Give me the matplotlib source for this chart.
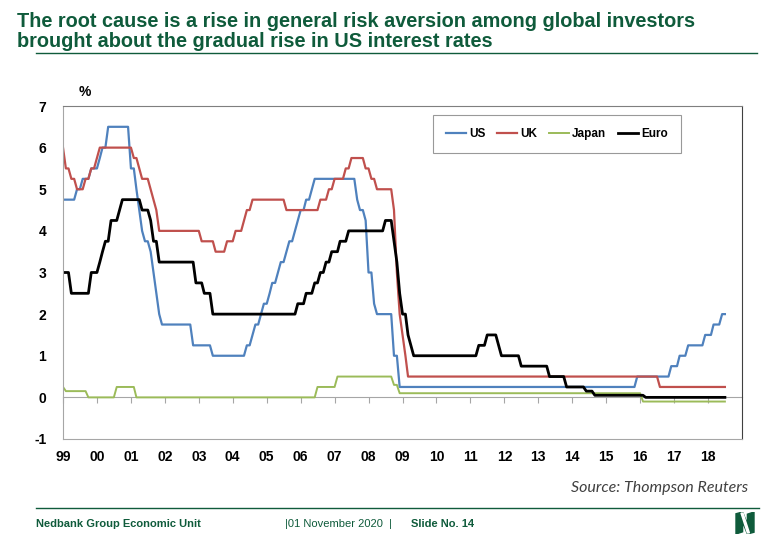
import matplotlib
matplotlib.use("Agg")
import matplotlib.pyplot as plt
import matplotlib.dates as mdates
from matplotlib.lines import Line2D
from matplotlib.patches import Polygon
import pandas as pd

plt.rcParams["axes.unicode_minus"] = False

# monthly policy rates, Jan 1999 - Jul 2018 (one row per year)
us = [
    4.75, 4.75, 4.75, 4.75, 4.75, 5.00, 5.00, 5.25, 5.25, 5.25, 5.50, 5.50,
    5.50, 5.75, 6.00, 6.00, 6.50, 6.50, 6.50, 6.50, 6.50, 6.50, 6.50, 6.50,
    5.50, 5.50, 5.00, 4.50, 4.00, 3.75, 3.75, 3.50, 3.00, 2.50, 2.00, 1.75,
    1.75, 1.75, 1.75, 1.75, 1.75, 1.75, 1.75, 1.75, 1.75, 1.75, 1.25, 1.25,
    1.25, 1.25, 1.25, 1.25, 1.25, 1.00, 1.00, 1.00, 1.00, 1.00, 1.00, 1.00,
    1.00, 1.00, 1.00, 1.00, 1.00, 1.25, 1.25, 1.50, 1.75, 1.75, 2.00, 2.25,
    2.25, 2.50, 2.75, 2.75, 3.00, 3.25, 3.25, 3.50, 3.75, 3.75, 4.00, 4.25,
    4.50, 4.50, 4.75, 4.75, 5.00, 5.25, 5.25, 5.25, 5.25, 5.25, 5.25, 5.25,
    5.25, 5.25, 5.25, 5.25, 5.25, 5.25, 5.25, 5.25, 4.75, 4.50, 4.50, 4.25,
    3.00, 3.00, 2.25, 2.00, 2.00, 2.00, 2.00, 2.00, 2.00, 1.00, 1.00, 0.25,
    0.25, 0.25, 0.25, 0.25, 0.25, 0.25, 0.25, 0.25, 0.25, 0.25, 0.25, 0.25,
    0.25, 0.25, 0.25, 0.25, 0.25, 0.25, 0.25, 0.25, 0.25, 0.25, 0.25, 0.25,
    0.25, 0.25, 0.25, 0.25, 0.25, 0.25, 0.25, 0.25, 0.25, 0.25, 0.25, 0.25,
    0.25, 0.25, 0.25, 0.25, 0.25, 0.25, 0.25, 0.25, 0.25, 0.25, 0.25, 0.25,
    0.25, 0.25, 0.25, 0.25, 0.25, 0.25, 0.25, 0.25, 0.25, 0.25, 0.25, 0.25,
    0.25, 0.25, 0.25, 0.25, 0.25, 0.25, 0.25, 0.25, 0.25, 0.25, 0.25, 0.25,
    0.25, 0.25, 0.25, 0.25, 0.25, 0.25, 0.25, 0.25, 0.25, 0.25, 0.25, 0.50,
    0.50, 0.50, 0.50, 0.50, 0.50, 0.50, 0.50, 0.50, 0.50, 0.50, 0.50, 0.75,
    0.75, 0.75, 1.00, 1.00, 1.00, 1.25, 1.25, 1.25, 1.25, 1.25, 1.25, 1.50,
    1.50, 1.50, 1.75, 1.75, 1.75, 2.00, 2.00,
]
uk = [
    6.00, 5.50, 5.50, 5.25, 5.25, 5.00, 5.00, 5.00, 5.25, 5.25, 5.50, 5.50,
    5.75, 6.00, 6.00, 6.00, 6.00, 6.00, 6.00, 6.00, 6.00, 6.00, 6.00, 6.00,
    6.00, 5.75, 5.75, 5.50, 5.25, 5.25, 5.25, 5.00, 4.75, 4.50, 4.00, 4.00,
    4.00, 4.00, 4.00, 4.00, 4.00, 4.00, 4.00, 4.00, 4.00, 4.00, 4.00, 4.00,
    4.00, 3.75, 3.75, 3.75, 3.75, 3.75, 3.50, 3.50, 3.50, 3.50, 3.75, 3.75,
    3.75, 4.00, 4.00, 4.00, 4.25, 4.50, 4.50, 4.75, 4.75, 4.75, 4.75, 4.75,
    4.75, 4.75, 4.75, 4.75, 4.75, 4.75, 4.75, 4.50, 4.50, 4.50, 4.50, 4.50,
    4.50, 4.50, 4.50, 4.50, 4.50, 4.50, 4.50, 4.75, 4.75, 4.75, 5.00, 5.00,
    5.25, 5.25, 5.25, 5.25, 5.50, 5.50, 5.75, 5.75, 5.75, 5.75, 5.75, 5.50,
    5.50, 5.25, 5.25, 5.00, 5.00, 5.00, 5.00, 5.00, 5.00, 4.50, 3.00, 2.00,
    1.50, 1.00, 0.50, 0.50, 0.50, 0.50, 0.50, 0.50, 0.50, 0.50, 0.50, 0.50,
    0.50, 0.50, 0.50, 0.50, 0.50, 0.50, 0.50, 0.50, 0.50, 0.50, 0.50, 0.50,
    0.50, 0.50, 0.50, 0.50, 0.50, 0.50, 0.50, 0.50, 0.50, 0.50, 0.50, 0.50,
    0.50, 0.50, 0.50, 0.50, 0.50, 0.50, 0.50, 0.50, 0.50, 0.50, 0.50, 0.50,
    0.50, 0.50, 0.50, 0.50, 0.50, 0.50, 0.50, 0.50, 0.50, 0.50, 0.50, 0.50,
    0.50, 0.50, 0.50, 0.50, 0.50, 0.50, 0.50, 0.50, 0.50, 0.50, 0.50, 0.50,
    0.50, 0.50, 0.50, 0.50, 0.50, 0.50, 0.50, 0.50, 0.50, 0.50, 0.50, 0.50,
    0.50, 0.50, 0.50, 0.50, 0.50, 0.50, 0.50, 0.25, 0.25, 0.25, 0.25, 0.25,
    0.25, 0.25, 0.25, 0.25, 0.25, 0.25, 0.25, 0.25, 0.25, 0.25, 0.25, 0.25,
    0.25, 0.25, 0.25, 0.25, 0.25, 0.25, 0.25,
]
japan = [
    0.25, 0.15, 0.15, 0.15, 0.15, 0.15, 0.15, 0.15, 0.15, 0.00, 0.00, 0.00,
    0.00, 0.00, 0.00, 0.00, 0.00, 0.00, 0.00, 0.25, 0.25, 0.25, 0.25, 0.25,
    0.25, 0.25, 0.00, 0.00, 0.00, 0.00, 0.00, 0.00, 0.00, 0.00, 0.00, 0.00,
    0.00, 0.00, 0.00, 0.00, 0.00, 0.00, 0.00, 0.00, 0.00, 0.00, 0.00, 0.00,
    0.00, 0.00, 0.00, 0.00, 0.00, 0.00, 0.00, 0.00, 0.00, 0.00, 0.00, 0.00,
    0.00, 0.00, 0.00, 0.00, 0.00, 0.00, 0.00, 0.00, 0.00, 0.00, 0.00, 0.00,
    0.00, 0.00, 0.00, 0.00, 0.00, 0.00, 0.00, 0.00, 0.00, 0.00, 0.00, 0.00,
    0.00, 0.00, 0.00, 0.00, 0.00, 0.00, 0.25, 0.25, 0.25, 0.25, 0.25, 0.25,
    0.25, 0.50, 0.50, 0.50, 0.50, 0.50, 0.50, 0.50, 0.50, 0.50, 0.50, 0.50,
    0.50, 0.50, 0.50, 0.50, 0.50, 0.50, 0.50, 0.50, 0.50, 0.30, 0.30, 0.10,
    0.10, 0.10, 0.10, 0.10, 0.10, 0.10, 0.10, 0.10, 0.10, 0.10, 0.10, 0.10,
    0.10, 0.10, 0.10, 0.10, 0.10, 0.10, 0.10, 0.10, 0.10, 0.10, 0.10, 0.10,
    0.10, 0.10, 0.10, 0.10, 0.10, 0.10, 0.10, 0.10, 0.10, 0.10, 0.10, 0.10,
    0.10, 0.10, 0.10, 0.10, 0.10, 0.10, 0.10, 0.10, 0.10, 0.10, 0.10, 0.10,
    0.10, 0.10, 0.10, 0.10, 0.10, 0.10, 0.10, 0.10, 0.10, 0.10, 0.10, 0.10,
    0.10, 0.10, 0.10, 0.10, 0.10, 0.10, 0.10, 0.10, 0.10, 0.10, 0.10, 0.10,
    0.10, 0.10, 0.10, 0.10, 0.10, 0.10, 0.10, 0.10, 0.10, 0.10, 0.10, 0.10,
    0.10, -0.10, -0.10, -0.10, -0.10, -0.10, -0.10, -0.10, -0.10, -0.10, -0.10, -0.10,
    -0.10, -0.10, -0.10, -0.10, -0.10, -0.10, -0.10, -0.10, -0.10, -0.10, -0.10, -0.10,
    -0.10, -0.10, -0.10, -0.10, -0.10, -0.10, -0.10,
]
euro = [
    3.00, 3.00, 3.00, 2.50, 2.50, 2.50, 2.50, 2.50, 2.50, 2.50, 3.00, 3.00,
    3.00, 3.25, 3.50, 3.75, 3.75, 4.25, 4.25, 4.25, 4.50, 4.75, 4.75, 4.75,
    4.75, 4.75, 4.75, 4.75, 4.50, 4.50, 4.50, 4.25, 3.75, 3.75, 3.25, 3.25,
    3.25, 3.25, 3.25, 3.25, 3.25, 3.25, 3.25, 3.25, 3.25, 3.25, 3.25, 2.75,
    2.75, 2.75, 2.50, 2.50, 2.50, 2.00, 2.00, 2.00, 2.00, 2.00, 2.00, 2.00,
    2.00, 2.00, 2.00, 2.00, 2.00, 2.00, 2.00, 2.00, 2.00, 2.00, 2.00, 2.00,
    2.00, 2.00, 2.00, 2.00, 2.00, 2.00, 2.00, 2.00, 2.00, 2.00, 2.00, 2.25,
    2.25, 2.25, 2.50, 2.50, 2.50, 2.75, 2.75, 3.00, 3.00, 3.25, 3.25, 3.50,
    3.50, 3.50, 3.75, 3.75, 3.75, 4.00, 4.00, 4.00, 4.00, 4.00, 4.00, 4.00,
    4.00, 4.00, 4.00, 4.00, 4.00, 4.00, 4.25, 4.25, 4.25, 3.75, 3.25, 2.50,
    2.00, 2.00, 1.50, 1.25, 1.00, 1.00, 1.00, 1.00, 1.00, 1.00, 1.00, 1.00,
    1.00, 1.00, 1.00, 1.00, 1.00, 1.00, 1.00, 1.00, 1.00, 1.00, 1.00, 1.00,
    1.00, 1.00, 1.00, 1.25, 1.25, 1.25, 1.50, 1.50, 1.50, 1.50, 1.25, 1.00,
    1.00, 1.00, 1.00, 1.00, 1.00, 1.00, 0.75, 0.75, 0.75, 0.75, 0.75, 0.75,
    0.75, 0.75, 0.75, 0.75, 0.50, 0.50, 0.50, 0.50, 0.50, 0.50, 0.25, 0.25,
    0.25, 0.25, 0.25, 0.25, 0.25, 0.15, 0.15, 0.15, 0.05, 0.05, 0.05, 0.05,
    0.05, 0.05, 0.05, 0.05, 0.05, 0.05, 0.05, 0.05, 0.05, 0.05, 0.05, 0.05,
    0.05, 0.05, 0.00, 0.00, 0.00, 0.00, 0.00, 0.00, 0.00, 0.00, 0.00, 0.00,
    0.00, 0.00, 0.00, 0.00, 0.00, 0.00, 0.00, 0.00, 0.00, 0.00, 0.00, 0.00,
    0.00, 0.00, 0.00, 0.00, 0.00, 0.00, 0.00,
]
names = ["US", "UK", "Japan", "Euro"]
colors = ["#4F81BD", "#C0504D", "#9BBB59", "#000000"]
widths = [1.6, 1.6, 1.4, 2.0]
years = list(range(1999, 2019))

dates = pd.date_range("1999-01-01", periods=len(us), freq="MS")
year_ticks = [pd.Timestamp(year=y, month=1, day=1) for y in years]
green = "#0F5B3B"

fig = plt.figure(figsize=(7.8, 5.4), dpi=100)
ax = fig.add_axes([63 / 780, 1 - 439 / 540, 679 / 780, 333 / 540])

for vals, name, c, lw in zip([us, uk, japan, euro], names, colors, widths):
    ax.plot(dates, vals, color=c, lw=lw, label=name)

ax.set_ylim(-1, 7)
ax.set_yticks(range(-1, 8))
ax.set_xlim(pd.Timestamp("1999-01-01"), pd.Timestamp("2019-01-01"))
ax.set_xticks(year_ticks)
ax.set_xticklabels([f"{y % 100:02d}" for y in years])
ax.tick_params(axis="both", length=0, labelsize=10)
ax.tick_params(axis="x", pad=8)
ax.tick_params(axis="y", pad=12)
for lab in ax.get_xticklabels() + ax.get_yticklabels():
    lab.set_fontweight("bold")
    lab.set_fontfamily("Liberation Sans")
ax.spines["top"].set_color("#7F7F7F")
ax.spines["right"].set_color("#404040")
ax.spines["left"].set_color("#A6A6A6")
ax.spines["bottom"].set_color("#A6A6A6")

# zero line with year tick marks
zero = ax.secondary_xaxis(0.125)
zero.set_xticks(year_ticks)
zero.tick_params(length=4, color="#A6A6A6", labelbottom=False)
zero.spines["bottom"].set_color("#A6A6A6")

leg = ax.legend(loc="center", bbox_to_anchor=(0.7275, 0.917), ncol=4,
                frameon=True, fancybox=False, edgecolor="#808080",
                handlelength=1.7, handletextpad=0.25, columnspacing=1.0,
                borderpad=1.1, prop={"family": "Liberation Sans", "weight": "bold", "size": 8.5})
leg.get_frame().set_linewidth(0.8)

fig.text(85 / 780, 1 - 92 / 540, "%", ha="center", va="center",
         fontsize=10, fontweight="bold", family="Liberation Sans")

# title
fig.text(17 / 780, 1 - 27 / 540, "The root cause is a rise in general risk aversion among global investors",
         fontsize=14.3, fontweight="bold", color=green, family="Liberation Sans", va="baseline")
fig.text(17 / 780, 1 - 47 / 540, "brought about the gradual rise in US interest rates",
         fontsize=14.3, fontweight="bold", color=green, family="Liberation Sans", va="baseline")
fig.add_artist(Line2D([36 / 780, 757 / 780], [1 - 53 / 540, 1 - 53 / 540], color=green, lw=1))

# source and footer
fig.text(748 / 780, 1 - 488 / 540, "Source: Thompson Reuters", ha="right", va="center",
         fontsize=11.5, style="italic", color="#404040", family=["Lato", "DejaVu Sans"])
fig.add_artist(Line2D([36 / 780, 759 / 780], [1 - 508 / 540, 1 - 508 / 540], color=green, lw=1))
foot = ["Liberation Sans Narrow", "Liberation Sans"]
fig.text(36 / 780, 1 - 524 / 540, "Nedbank Group Economic Unit", va="center",
         fontsize=8, fontweight="bold", color=green, family=foot)
fig.text(285 / 780, 1 - 524 / 540, "|01 November 2020  |", va="center",
         fontsize=8, color=green, family=foot)
fig.text(411 / 780, 1 - 524 / 540, "Slide No. 14", va="center",
         fontsize=8, fontweight="bold", color=green, family=foot)

# logo
lax = fig.add_axes([735 / 780, 1 - 534 / 540, 20 / 780, 22 / 540])
lax.set_xlim(0, 1)
lax.set_ylim(0, 1)
lax.axis("off")
lax.add_patch(Polygon([(0.05, 0.0), (0.38, 0.1), (0.38, 0.55), (0.62, 0.0), (0.95, 0.08),
                       (0.95, 1.0), (0.62, 0.9), (0.62, 0.45), (0.38, 1.0), (0.05, 0.92)],
                      closed=True, color=green))
lax.add_patch(Polygon([(0.3, 0.95), (0.4, 0.95), (0.72, 0.05), (0.62, 0.05)],
                      closed=True, color="white"))

fig.savefig("out.png", dpi=100)
